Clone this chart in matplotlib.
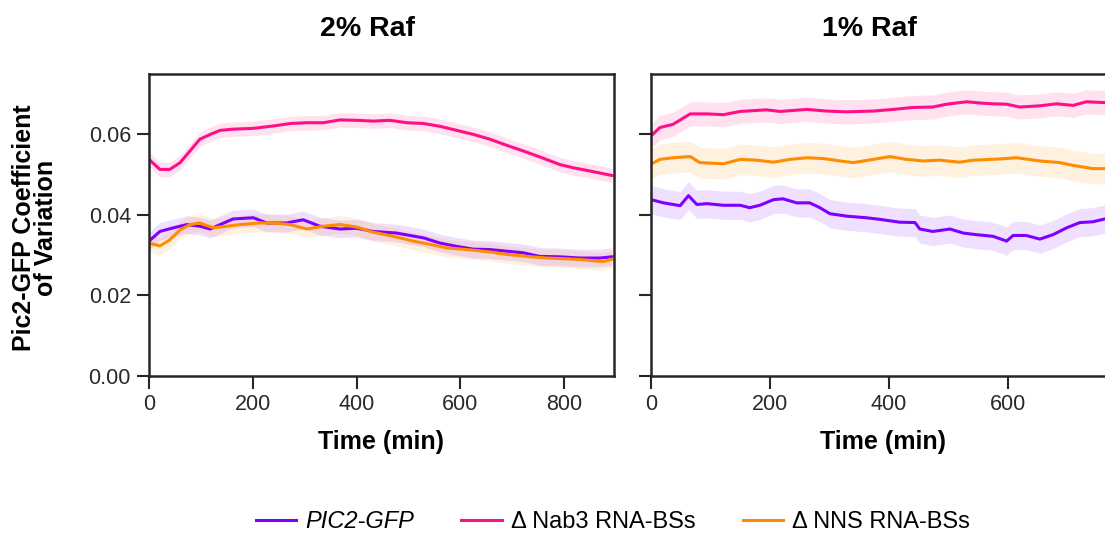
import numpy as np
import matplotlib
matplotlib.use("Agg")
import matplotlib.pyplot as plt
from matplotlib.lines import Line2D

plt.rcParams['font.family'] = ['Liberation Sans', 'DejaVu Sans']

# ---- data (time in min, coefficient of variation) ----
# 2% Raf
t_pic2_2 = [0, 21, 47, 73, 98, 118, 137, 162, 201, 227, 265, 297, 329, 368, 400, 432,
            477, 529, 561, 593, 625, 657, 689, 721, 753, 792, 830, 869, 892]
cv_pic2_2 = [.0335, .0359, .0368, .0376, .0372, .0365, .0376, .0390, .0393, .0380, .0380,
             .0388, .0372, .0365, .0367, .0359, .0355, .0343, .0330, .0322, .0315, .0314,
             .0310, .0306, .0297, .0296, .0293, .0293, .0296]

t_nab3_2 = [0, 21, 40, 60, 79, 98, 118, 137, 162, 201, 240, 272, 304, 336, 368, 400,
            432, 464, 497, 529, 561, 593, 625, 657, 689, 721, 753, 792, 818, 850, 892]
cv_nab3_2 = [.0538, .0513, .0513, .0530, .0559, .0588, .0600, .0610, .0613, .0615, .0621,
             .0627, .0629, .0629, .0636, .0635, .0633, .0635, .0629, .0627, .0620, .0610,
             .0600, .0588, .0573, .0559, .0544, .0525, .0517, .0509, .0498]

t_nns_2 = [0, 21, 40, 60, 79, 98, 124, 150, 175, 214, 240, 272, 304, 336, 368, 400,
           432, 471, 509, 541, 574, 612, 657, 689, 728, 766, 805, 843, 875, 892]
cv_nns_2 = [.0330, .0323, .0338, .0363, .0376, .0380, .0368, .0372, .0376, .0380, .0380,
            .0376, .0365, .0372, .0376, .0370, .0357, .0347, .0335, .0327, .0318, .0314,
            .0308, .0302, .0297, .0293, .0291, .0288, .0284, .0290]

# 1% Raf
t_pic2_1 = [0, 21, 49, 63, 77, 94, 122, 150, 166, 183, 206, 222, 245, 267, 284, 301,
            329, 362, 385, 418, 444, 452, 474, 503, 525, 547, 575, 598, 609, 631, 654,
            676, 699, 721, 743, 763]
cv_pic2_1 = [.0438, .0430, .0423, .0448, .0426, .0428, .0424, .0424, .0418, .0424, .0438,
             .0440, .0430, .0430, .0418, .0403, .0397, .0393, .0389, .0382, .0381, .0365,
             .0359, .0365, .0355, .0351, .0347, .0335, .0349, .0349, .0340, .0351, .0368,
             .0381, .0383, .0390]

t_nab3_1 = [0, 15, 37, 66, 94, 122, 150, 194, 217, 262, 295, 329, 374, 407, 441, 474,
            497, 531, 553, 575, 598, 620, 654, 682, 710, 732, 763]
cv_nab3_1 = [.0596, .0617, .0625, .0651, .0651, .0649, .0657, .0661, .0657, .0662, .0658,
             .0656, .0658, .0662, .0667, .0668, .0675, .0681, .0678, .0676, .0675, .0668,
             .0671, .0676, .0672, .0681, .0679]

t_nns_1 = [0, 15, 37, 66, 82, 122, 150, 178, 206, 234, 262, 290, 318, 340, 374, 402,
           429, 458, 486, 519, 542, 587, 615, 654, 687, 710, 743, 763]
cv_nns_1 = [.0526, .0538, .0542, .0545, .0530, .0527, .0538, .0536, .0531, .0538, .0542,
            .0540, .0534, .0530, .0538, .0545, .0538, .0534, .0536, .0531, .0536, .0539,
            .0542, .0534, .0530, .0523, .0515, .0515]

# approximate half-width of the shaded bands
sem_2 = {'pic2': 0.0022, 'nab3': 0.0018, 'nns': 0.0022}
sem_1 = {'pic2': 0.0035, 'nab3': 0.0030, 'nns': 0.0038}

labels = {'pic2': 'PIC2-GFP', 'nab3': '\u0394 Nab3 RNA-BSs', 'nns': '\u0394 NNS RNA-BSs'}
colors = {'pic2': '#8000ff', 'nab3': '#ff0f87', 'nns': '#ff8c00'}
titles = ['2% Raf', '1% Raf']

panels = [
    {'pic2': (t_pic2_2, cv_pic2_2), 'nab3': (t_nab3_2, cv_nab3_2), 'nns': (t_nns_2, cv_nns_2)},
    {'pic2': (t_pic2_1, cv_pic2_1), 'nab3': (t_nab3_1, cv_nab3_1), 'nns': (t_nns_1, cv_nns_1)},
]
sems = [sem_2, sem_1]
xlims = [(0, 896), (0, 782)]

fig = plt.figure(figsize=(11.05, 5.33), dpi=100)
W, H = 1105, 533
ax_left = fig.add_axes([149 / W, 1 - 376 / H, 465 / W, 302 / H])
ax_right = fig.add_axes([651 / W, 1 - 376 / H, 465 / W, 302 / H])
axes = [ax_left, ax_right]

spine_col = '#262626'
for i, ax in enumerate(axes):
    for key in ['pic2', 'nab3', 'nns']:
        t, v = panels[i][key]
        t = np.asarray(t, float)
        v = np.asarray(v, float)
        ax.fill_between(t, v - sems[i][key], v + sems[i][key], color=colors[key],
                        alpha=0.12, linewidth=0)
        ax.plot(t, v, color=colors[key], linewidth=2.2)
    ax.set_xlim(*xlims[i])
    ax.set_ylim(0, 0.075)
    ax.set_yticks([0, 0.02, 0.04, 0.06])
    ax.set_xticks(np.arange(0, xlims[i][1], 200))
    for s in ax.spines.values():
        s.set_linewidth(1.8)
        s.set_color(spine_col)
    ax.tick_params(direction='out', length=9, width=1.5, color=spine_col,
                   labelsize=15.5, pad=4, labelcolor='#2a2a2a')
    ax.set_xlabel('Time (min)', fontsize=18, fontweight='bold', labelpad=11)
    ax.set_title(titles[i], fontsize=20.5, fontweight='bold', pad=27, x=0.47)

ax_left.set_yticklabels(['0.00', '0.02', '0.04', '0.06'])
ax_right.set_yticklabels([])
ax_left.set_ylabel('Pic2-GFP Coefficient\nof Variation', fontsize=18, fontweight='bold',
                   linespacing=0.9)
ax_left.yaxis.set_label_coords(-0.196, 0.49)

handles = [Line2D([], [], color=colors[k], linewidth=2.2) for k in ['pic2', 'nab3', 'nns']]
leg = fig.legend(handles, [labels[k] for k in ['pic2', 'nab3', 'nns']],
                 loc='center', bbox_to_anchor=(613 / W, 1 - 522 / H), ncol=3,
                 frameon=False, fontsize=17, handlelength=1.7, handletextpad=0.4,
                 columnspacing=2.0)
leg.get_texts()[0].set_fontstyle('italic')

fig.savefig('out.png', dpi=100)
